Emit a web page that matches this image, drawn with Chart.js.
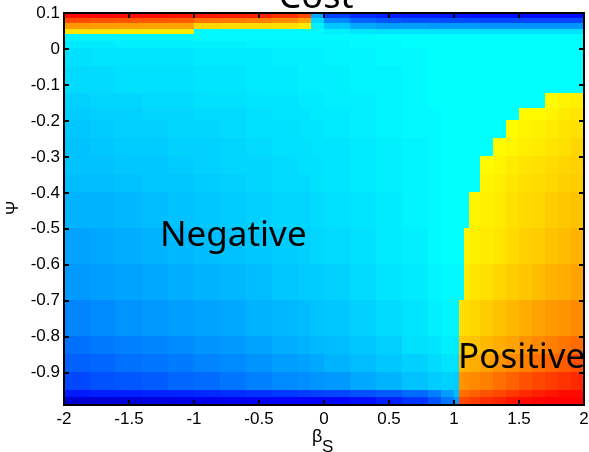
<!DOCTYPE html>
<html>
<head>
<meta charset="utf-8">
<script src="https://cdn.jsdelivr.net/npm/chart.js@4/dist/chart.umd.min.js"></script>
<style>
  body { margin: 0; background: #fff; }
  canvas { display: block; }
</style>
</head>
<body>
<canvas id="grafico-costo" width="589" height="452"></canvas>
<script>
/* *****
Datos
***** */

// bordes de las celdas en beta_S (eje x) y en Psi (eje y)
const xEdges = [-2, -1.8, -1.6, -1.4, -1.2, -1, -0.8, -0.6, -0.4, -0.2, -0.1, 0, 0.2, 0.4, 0.6, 0.8, 0.9, 1, 1.04, 1.08, 1.12, 1.2, 1.3, 1.4, 1.5, 1.6, 1.7, 1.8, 1.9, 2];
const yEdges = [0.1, 0.085, 0.07, 0.055, 0.04, 0.02, 0, -0.05, -0.125, -0.165, -0.2, -0.25, -0.3, -0.35, -0.4, -0.5, -0.6, -0.7, -0.8, -0.85, -0.9, -0.95, -0.97, -0.99];

// costo por celda, una fila por banda de Psi (de arriba hacia abajo)
const cost = [
  [0.73, 0.73, 0.72, 0.72, 0.71, 0.70, 0.69, 0.68, 0.65, 0.60, -0.42, -0.62, -0.67, -0.69, -0.70, -0.70, -0.71, -0.71, -0.71, -0.71, -0.72, -0.72, -0.72, -0.72, -0.73, -0.73, -0.73, -0.73, -0.73],
  [0.60, 0.59, 0.58, 0.58, 0.57, 0.52, 0.51, 0.50, 0.47, 0.43, -0.33, -0.48, -0.55, -0.58, -0.59, -0.59, -0.60, -0.60, -0.60, -0.60, -0.60, -0.61, -0.61, -0.61, -0.61, -0.61, -0.61, -0.61, -0.61],
  [0.45, 0.44, 0.44, 0.43, 0.43, 0.33, 0.32, 0.32, 0.31, 0.29, -0.28, -0.36, -0.42, -0.44, -0.44, -0.45, -0.45, -0.45, -0.45, -0.45, -0.45, -0.46, -0.46, -0.46, -0.46, -0.46, -0.46, -0.46, -0.46],
  [0.30, 0.30, 0.29, 0.29, 0.29, -0.26, -0.26, -0.26, -0.26, -0.26, -0.26, -0.28, -0.30, -0.31, -0.31, -0.31, -0.31, -0.31, -0.31, -0.31, -0.31, -0.31, -0.31, -0.31, -0.31, -0.31, -0.31, -0.31, -0.31],
  [-0.27, -0.27, -0.27, -0.27, -0.27, -0.26, -0.26, -0.26, -0.26, -0.26, -0.26, -0.26, -0.26, -0.25, -0.25, -0.25, -0.25, -0.25, -0.25, -0.25, -0.25, -0.25, -0.25, -0.25, -0.25, -0.25, -0.25, -0.25, -0.25],
  [-0.29, -0.29, -0.28, -0.28, -0.28, -0.28, -0.28, -0.27, -0.27, -0.27, -0.27, -0.27, -0.26, -0.26, -0.25, -0.25, -0.25, -0.25, -0.25, -0.25, -0.25, -0.25, -0.25, -0.25, -0.25, -0.25, -0.25, -0.25, -0.25],
  [-0.31, -0.30, -0.30, -0.30, -0.30, -0.29, -0.29, -0.29, -0.28, -0.28, -0.28, -0.27, -0.27, -0.26, -0.26, -0.25, -0.25, -0.25, -0.25, -0.25, -0.25, -0.25, -0.25, -0.25, -0.25, -0.25, -0.25, -0.25, -0.25],
  [-0.32, -0.32, -0.31, -0.31, -0.31, -0.30, -0.30, -0.29, -0.29, -0.28, -0.28, -0.28, -0.27, -0.27, -0.26, -0.25, -0.25, -0.25, -0.25, -0.25, -0.25, -0.25, -0.25, -0.25, -0.25, -0.25, -0.25, -0.25, -0.25],
  [-0.34, -0.33, -0.33, -0.32, -0.32, -0.31, -0.31, -0.30, -0.30, -0.29, -0.29, -0.28, -0.28, -0.27, -0.26, -0.25, -0.25, -0.25, -0.25, -0.25, -0.25, -0.25, -0.25, -0.25, -0.25, -0.25, 0.26, 0.27, 0.28],
  [-0.35, -0.34, -0.34, -0.33, -0.33, -0.32, -0.32, -0.31, -0.30, -0.30, -0.29, -0.29, -0.28, -0.27, -0.26, -0.26, -0.25, -0.25, -0.25, -0.25, -0.25, -0.25, -0.25, -0.25, 0.26, 0.26, 0.27, 0.29, 0.30],
  [-0.36, -0.35, -0.34, -0.34, -0.33, -0.33, -0.32, -0.31, -0.31, -0.30, -0.30, -0.29, -0.28, -0.27, -0.26, -0.26, -0.25, -0.25, -0.25, -0.25, -0.25, -0.25, -0.25, 0.26, 0.27, 0.28, 0.29, 0.30, 0.31],
  [-0.37, -0.36, -0.35, -0.35, -0.34, -0.34, -0.33, -0.32, -0.31, -0.31, -0.30, -0.30, -0.29, -0.28, -0.27, -0.26, -0.25, -0.25, -0.25, -0.25, -0.25, -0.25, 0.26, 0.27, 0.28, 0.29, 0.30, 0.31, 0.33],
  [-0.37, -0.37, -0.36, -0.36, -0.35, -0.34, -0.33, -0.33, -0.32, -0.31, -0.31, -0.30, -0.29, -0.28, -0.27, -0.26, -0.25, -0.25, -0.25, -0.25, -0.25, 0.26, 0.27, 0.29, 0.30, 0.31, 0.32, 0.33, 0.34],
  [-0.38, -0.38, -0.37, -0.36, -0.36, -0.35, -0.34, -0.33, -0.32, -0.32, -0.31, -0.30, -0.29, -0.28, -0.27, -0.26, -0.25, -0.25, -0.25, -0.25, -0.25, 0.27, 0.28, 0.30, 0.31, 0.32, 0.33, 0.34, 0.35],
  [-0.40, -0.40, -0.39, -0.38, -0.37, -0.36, -0.35, -0.34, -0.33, -0.33, -0.32, -0.31, -0.30, -0.29, -0.27, -0.26, -0.25, -0.25, -0.25, -0.25, 0.27, 0.28, 0.29, 0.31, 0.32, 0.33, 0.35, 0.36, 0.37],
  [-0.43, -0.42, -0.41, -0.40, -0.39, -0.38, -0.37, -0.36, -0.35, -0.34, -0.33, -0.32, -0.31, -0.29, -0.28, -0.26, -0.25, -0.25, -0.25, 0.27, 0.28, 0.29, 0.30, 0.32, 0.34, 0.35, 0.37, 0.38, 0.40],
  [-0.45, -0.44, -0.43, -0.42, -0.41, -0.40, -0.39, -0.38, -0.36, -0.35, -0.35, -0.34, -0.32, -0.30, -0.29, -0.27, -0.26, -0.26, -0.26, 0.29, 0.30, 0.31, 0.33, 0.35, 0.36, 0.38, 0.40, 0.41, 0.43],
  [-0.49, -0.48, -0.46, -0.45, -0.44, -0.43, -0.42, -0.40, -0.39, -0.38, -0.37, -0.36, -0.34, -0.32, -0.30, -0.28, -0.27, -0.27, 0.31, 0.32, 0.33, 0.35, 0.37, 0.39, 0.41, 0.43, 0.45, 0.46, 0.48],
  [-0.53, -0.51, -0.50, -0.49, -0.48, -0.46, -0.45, -0.43, -0.41, -0.40, -0.39, -0.38, -0.36, -0.34, -0.31, -0.30, -0.28, -0.29, 0.35, 0.36, 0.37, 0.39, 0.41, 0.43, 0.46, 0.48, 0.50, 0.52, 0.54],
  [-0.56, -0.55, -0.53, -0.52, -0.51, -0.49, -0.48, -0.46, -0.44, -0.43, -0.42, -0.40, -0.38, -0.36, -0.34, -0.32, -0.30, -0.31, 0.39, 0.40, 0.41, 0.43, 0.46, 0.48, 0.50, 0.53, 0.55, 0.57, 0.59],
  [-0.61, -0.59, -0.58, -0.57, -0.55, -0.54, -0.52, -0.50, -0.48, -0.47, -0.46, -0.45, -0.42, -0.40, -0.37, -0.35, -0.34, -0.35, 0.46, 0.47, 0.48, 0.50, 0.53, 0.56, 0.59, 0.61, 0.63, 0.65, 0.67],
  [-0.70, -0.69, -0.69, -0.68, -0.68, -0.67, -0.66, -0.65, -0.64, -0.63, -0.62, -0.61, -0.59, -0.57, -0.54, -0.50, -0.44, -0.38, 0.53, 0.54, 0.56, 0.59, 0.61, 0.64, 0.67, 0.69, 0.71, 0.73, 0.73],
  [-0.84, -0.83, -0.82, -0.81, -0.80, -0.79, -0.78, -0.77, -0.76, -0.75, -0.75, -0.74, -0.72, -0.69, -0.65, -0.59, -0.52, -0.45, 0.60, 0.61, 0.63, 0.66, 0.68, 0.71, 0.73, 0.74, 0.75, 0.75, 0.75]
];

const xTicks = [-2, -1.5, -1, -0.5, 0, 0.5, 1, 1.5, 2];
const yTicks = [0.1, 0, -0.1, -0.2, -0.3, -0.4, -0.5, -0.6, -0.7, -0.8, -0.9];
const xTickLabels = ['-2', '-1.5', '-1', '-0.5', '0', '0.5', '1', '1.5', '2'];
const yTickLabels = ['0.1', '0', '-0.1', '-0.2', '-0.3', '-0.4', '-0.5', '-0.6', '-0.7', '-0.8', '-0.9'];

// limites del mapa de color
const cMin = -1;
const cMax = 1;

/* *****
Mapa de color tipo jet
***** */
const jet = (v) => {
    const t = (v - cMin) / (cMax - cMin);
    const c = (k) => Math.round(255 * Math.max(0, Math.min(1, 1.5 - Math.abs(4 * t - k))));
    return `rgb(${c(3)},${c(2)},${c(1)})`;
}

/* *****
Plugins: celdas, marco, textos
***** */
const heatmapPlugin = {
    id: 'heatmap',
    beforeDatasetsDraw(chart) {
        const { ctx, scales: { x, y } } = chart;
        ctx.save();
        cost.forEach((row, i) => {
            const y0 = Math.floor(y.getPixelForValue(yEdges[i]));
            const y1 = Math.ceil(y.getPixelForValue(yEdges[i + 1]));
            row.forEach((v, j) => {
                const x0 = Math.floor(x.getPixelForValue(xEdges[j]));
                const x1 = Math.ceil(x.getPixelForValue(xEdges[j + 1]));
                ctx.fillStyle = jet(v);
                ctx.fillRect(x0, y0, x1 - x0, y1 - y0);
            });
        });
        ctx.restore();
    }
};

const framePlugin = {
    id: 'frame',
    afterDraw(chart) {
        const { ctx, chartArea: a, scales: { x, y } } = chart;
        ctx.save();
        // ticks hacia adentro en los cuatro lados
        ctx.strokeStyle = '#000';
        ctx.lineWidth = 2;
        ctx.beginPath();
        xTicks.forEach((t) => {
            const px = Math.round(x.getPixelForValue(t));
            ctx.moveTo(px, a.bottom); ctx.lineTo(px, a.bottom - 5);
            ctx.moveTo(px, a.top); ctx.lineTo(px, a.top + 5);
        });
        yTicks.forEach((t) => {
            const py = Math.round(y.getPixelForValue(t));
            ctx.moveTo(a.left, py); ctx.lineTo(a.left + 5, py);
            ctx.moveTo(a.right, py); ctx.lineTo(a.right - 5, py);
        });
        ctx.stroke();
        ctx.strokeRect(a.left, a.top, a.right - a.left, a.bottom - a.top);

        // etiquetas de las regiones
        ctx.fillStyle = '#000';
        ctx.textBaseline = 'alphabetic';
        ctx.textAlign = 'left';
        ctx.font = '35px "Noto Sans"';
        ctx.fillText('Negative', x.getPixelForValue(-1.262), y.getPixelForValue(-0.548));
        ctx.fillText('Positive', x.getPixelForValue(1.031), y.getPixelForValue(-0.887));

        // titulo (cortado arriba)
        ctx.textAlign = 'center';
        ctx.font = '36px "Noto Sans"';
        ctx.fillText('Cost', 316, 8);

        // titulo eje x: beta con subindice S
        ctx.textAlign = 'left';
        ctx.font = '18px "Liberation Sans"';
        ctx.fillText('\u03b2', 312, 442);
        ctx.font = '17px "Liberation Sans"';
        ctx.fillText('S', 322, 452);

        // titulo eje y: Psi
        ctx.translate(13, 208);
        ctx.rotate(-Math.PI / 2);
        ctx.textAlign = 'center';
        ctx.textBaseline = 'middle';
        ctx.font = '17px "Liberation Sans"';
        ctx.fillText('\u03a8', 0, 0);
        ctx.restore();
    }
};

/* *****
Grafico
***** */
const tickFont = { family: '"Liberation Sans", Arial, sans-serif', size: 17 };

const config = {
    type: 'scatter',
    data: { datasets: [{ data: [], pointRadius: 0 }] },
    options: {
        responsive: false,
        animation: false,
        events: [],
        layout: { padding: { left: 0, right: 5, top: 13, bottom: 0 } },
        plugins: { legend: { display: false }, tooltip: { enabled: false } },
        scales: {
            x: {
                type: 'linear',
                min: -2,
                max: 2,
                grid: { display: false, drawTicks: false },
                border: { display: false },
                afterBuildTicks: (s) => { s.ticks = xTicks.map((v) => ({ value: v })); },
                afterFit: (s) => { s.height = 47; s.paddingLeft = 0; s.paddingRight = 0; },
                ticks: {
                    padding: 4,
                    color: '#000',
                    font: tickFont,
                    maxRotation: 0,
                    autoSkip: false,
                    callback: (v) => xTickLabels[xTicks.indexOf(v)]
                }
            },
            y: {
                type: 'linear',
                min: -0.99,
                max: 0.1,
                grid: { display: false, drawTicks: false },
                border: { display: false },
                afterBuildTicks: (s) => { s.ticks = yTicks.map((v) => ({ value: v })); },
                afterFit: (s) => { s.width = 64; s.paddingTop = 0; s.paddingBottom = 0; },
                ticks: {
                    padding: 4,
                    color: '#000',
                    font: tickFont,
                    autoSkip: false,
                    callback: (v) => yTickLabels[yTicks.indexOf(v)]
                }
            }
        }
    },
    plugins: [heatmapPlugin, framePlugin]
};

const graficoCosto = new Chart(document.getElementById('grafico-costo'), config);
</script>
</body>
</html>
